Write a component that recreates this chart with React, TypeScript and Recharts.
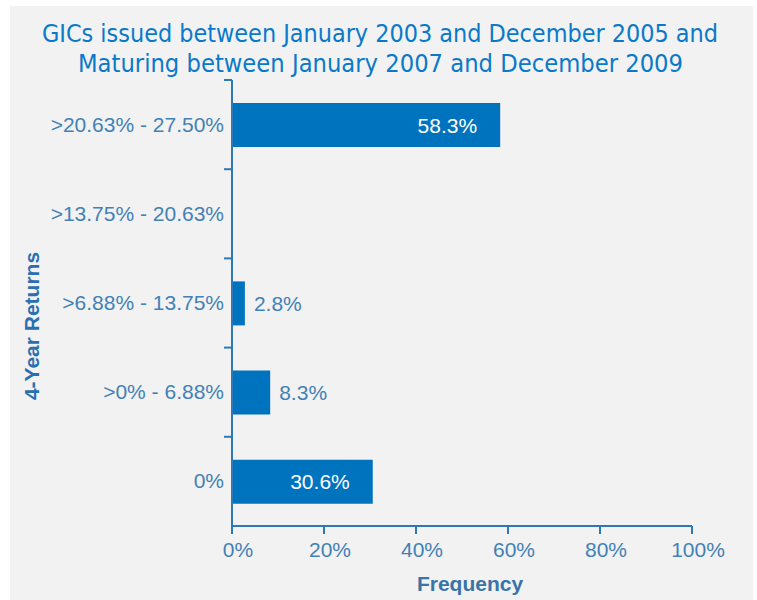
import { BarChart, Bar, XAxis, YAxis, LabelList, Label } from "recharts";

// 4-year return bands, top to bottom as drawn
const returnBands = [
  ">20.63% - 27.50%",
  ">13.75% - 20.63%",
  ">6.88% - 13.75%",
  ">0% - 6.88%",
  "0%",
];
// share of GICs in each band (%)
const frequency = [58.3, 0, 2.8, 8.3, 30.6];
const frequencyTicks = [0, 20, 40, 60, 80, 100];
const titleLines = [
  "GICs issued between January 2003 and December 2005 and",
  "Maturing between January 2007 and December 2009",
];

const data = returnBands.map((band, i) => ({ band, freq: frequency[i] }));

const FONT = "'Liberation Sans', Arial, sans-serif";
const TITLE_FONT = "'DejaVu Sans Condensed', 'Liberation Sans Narrow', 'Open Sans', sans-serif";
const BAR = "#0073bf";
const AXIS = "#2f78b6";
const TICK = "#4281b6";
const TITLE = "#0a79c9";

function BandTick(props: any) {
  const { x, y, payload } = props;
  const half = payload?.offset || 44.6;
  return (
    <g>
      <line x1={x} x2={x + 8} y1={y - half} y2={y - half} stroke={AXIS} strokeWidth={2} />
      <text x={x} y={y} dy={7} textAnchor="end" fill={TICK} fontSize={21} fontFamily={FONT}>
        {payload.value}
      </text>
    </g>
  );
}

function ValueLabel(props: any) {
  const { x, y, width, height, value } = props;
  if (!value) return null;
  const inside = value > 20;
  return (
    <text
      x={inside ? x + width - 23 : x + width + 9}
      y={y + height / 2 + 7.5}
      textAnchor={inside ? "end" : "start"}
      fill={inside ? "#ffffff" : TICK}
      fontSize={21}
      fontFamily={FONT}
    >
      {Number(value).toFixed(1)}%
    </text>
  );
}

export default function App() {
  return (
    <div style={{ position: "absolute", left: 0, top: 0, width: 757, height: 600, background: "#fff" }}>
      <div style={{ position: "absolute", left: 10, top: 6, width: 743, height: 594, background: "#f2f2f2" }} />
      <svg width={757} height={95} style={{ position: "absolute", left: 0, top: 0 }}>
        <text
          x={380}
          y={42}
          textAnchor="middle"
          textLength={676}
          lengthAdjust="spacingAndGlyphs"
          fill={TITLE}
          fontSize={25}
          fontStretch="condensed"
          fontFamily={TITLE_FONT}
        >
          {titleLines[0]}
        </text>
        <text
          x={380.5}
          y={72}
          textAnchor="middle"
          textLength={605}
          lengthAdjust="spacingAndGlyphs"
          fill={TITLE}
          fontSize={25}
          fontStretch="condensed"
          fontFamily={TITLE_FONT}
        >
          {titleLines[1]}
        </text>
      </svg>
      <div style={{ position: "absolute", left: 0, top: 0 }}>
        <BarChart
          width={757}
          height={600}
          data={data}
          layout="vertical"
          margin={{ top: 80, right: 65, bottom: 10, left: 10 }}
        >
          <XAxis
            type="number"
            domain={[0, 100]}
            ticks={frequencyTicks}
            tickFormatter={(v) => `${v}%`}
            height={64}
            tickSize={8}
            tickMargin={8}
            axisLine={{ stroke: AXIS, strokeWidth: 2 }}
            tickLine={{ stroke: AXIS, strokeWidth: 2 }}
            tick={{ fill: TICK, fontSize: 21, fontFamily: FONT, dx: 6 }}
          >
            <Label
              content={({ viewBox }: any) => (
                <text
                  x={viewBox.x + viewBox.width / 2 + 8}
                  y={591}
                  textAnchor="middle"
                  fill="#3a74a6"
                  fontSize={21}
                  fontWeight="bold"
                  fontFamily={FONT}
                >
                  Frequency
                </text>
              )}
            />
          </XAxis>
          <YAxis
            type="category"
            dataKey="band"
            width={222}
            tickSize={8}
            tickMargin={0}
            tickLine={false}
            axisLine={{ stroke: AXIS, strokeWidth: 2 }}
            tick={<BandTick />}
            interval={0}
          >
            <Label
              content={({ viewBox }: any) => {
                const cx = viewBox.x + 21;
                const cy = viewBox.y + viewBox.height / 2 + 23;
                return (
                  <text
                    x={cx}
                    y={cy}
                    transform={`rotate(-90 ${cx} ${cy})`}
                    textAnchor="middle"
                    dominantBaseline="central"
                    fill="#2a6faf"
                    fontSize={21}
                    fontWeight="bold"
                    fontFamily={FONT}
                  >
                    4-Year Returns
                  </text>
                );
              }}
            />
          </YAxis>
          <Bar dataKey="freq" fill={BAR} barSize={44} isAnimationActive={false}>
            <LabelList dataKey="freq" content={<ValueLabel />} />
          </Bar>
        </BarChart>
      </div>
    </div>
  );
}
